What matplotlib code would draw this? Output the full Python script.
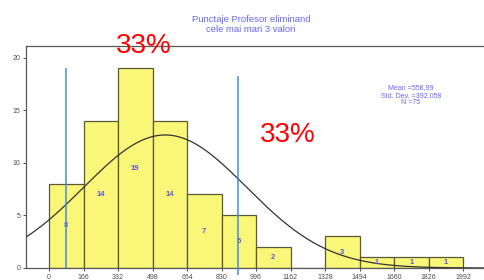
import numpy as np
import matplotlib
matplotlib.use("Agg")
import matplotlib.pyplot as plt

plt.rcParams['font.family'] = ['Liberation Sans', 'DejaVu Sans']

bin_edges = [0, 166, 332, 498, 664, 830, 996, 1162, 1328, 1494, 1660, 1826, 1992]
counts = [8, 14, 19, 14, 7, 5, 2, 0, 3, 1, 1, 1]
tick_labels = ["0", "166", "332", "498", "664", "830", "996", "1162", "1328", "1494", "1660", "1826", "1992"]
mean_val = 558.99
std_val = 392.058
n_val = 75
vlines_x = [82, 909]
vlines_top = [19.05, 18.3]
vlines_bottom = [0, -0.7]
pct_labels = ["33%", "33%"]

fig = plt.figure(figsize=(4.84, 2.80), dpi=100)
ax = fig.add_axes([26/484, 12/280, 1.02 - 26/484, 222/280])
ax.set_xlim(-110.7, 2093 + 0.02*484/0.20783)
ax.set_ylim(0, 21.14)

bar_fill = (0.98, 0.965, 0.47)
bar_edge = (0.35, 0.35, 0.22)
widths = np.diff(bin_edges)
ax.bar(bin_edges[:-1], counts, width=widths, align='edge', color=bar_fill,
       edgecolor=bar_edge, linewidth=0.9, zorder=2)

for left, w, c in zip(bin_edges[:-1], widths, counts):
    if c > 0:
        ax.text(left + w/2, c/2, str(c), ha='center', va='center', fontsize=5.5,
                fontweight='bold', color=(0.35, 0.35, 0.85), zorder=4)

# normal curve fitted from mean and std dev
xs = np.linspace(-110.7, 2300, 400)
bw = widths[0]
ys = n_val * bw / (std_val * np.sqrt(2*np.pi)) * np.exp(-0.5*((xs-mean_val)/std_val)**2)
ax.plot(xs, ys, color=(0.2, 0.2, 0.2), linewidth=0.9, zorder=3)

for xv, top, bot in zip(vlines_x, vlines_top, vlines_bottom):
    ax.plot([xv, xv], [bot, top], color=(0.27, 0.55, 0.85), linewidth=1.1,
            zorder=5, clip_on=False, solid_capstyle='butt')

ax.set_xticks(bin_edges)
ax.set_xticklabels(tick_labels)
ax.set_yticks([0, 5, 10, 15, 20])
ax.tick_params(axis='both', labelsize=5, colors=(0.3, 0.3, 0.3), length=2.5,
               width=0.7, pad=1.5)
for s in ['left', 'top', 'bottom']:
    ax.spines[s].set_color((0.35, 0.35, 0.35))
    ax.spines[s].set_linewidth(0.9)
ax.spines['right'].set_visible(False)

fig.text(251/484, 1 - 20/280, "Punctaje Profesor eliminand", ha='center', va='center',
         fontsize=6.8, color=(0.4, 0.4, 0.95))
fig.text(251/484, 1 - 30/280, "cele mai mari 3 valori", ha='center', va='center',
         fontsize=6.8, color=(0.4, 0.4, 0.95))

stats = [f"Mean =558,99", f"Std. Dev. =392,058", f"N ={n_val}"]
for i, s in enumerate(stats):
    fig.text(411/484, 1 - (88 + 7.5*i)/280, s, ha='center', va='center', fontsize=5,
             color=(0.4, 0.4, 0.95))

fig.text(144/484, 1 - 46/280, pct_labels[0], ha='center', va='center', fontsize=20,
         color='red')
fig.text(287.5/484, 1 - 135/280, pct_labels[1], ha='center', va='center', fontsize=20,
         color='red')

fig.savefig("out.png", dpi=100, facecolor='white')
